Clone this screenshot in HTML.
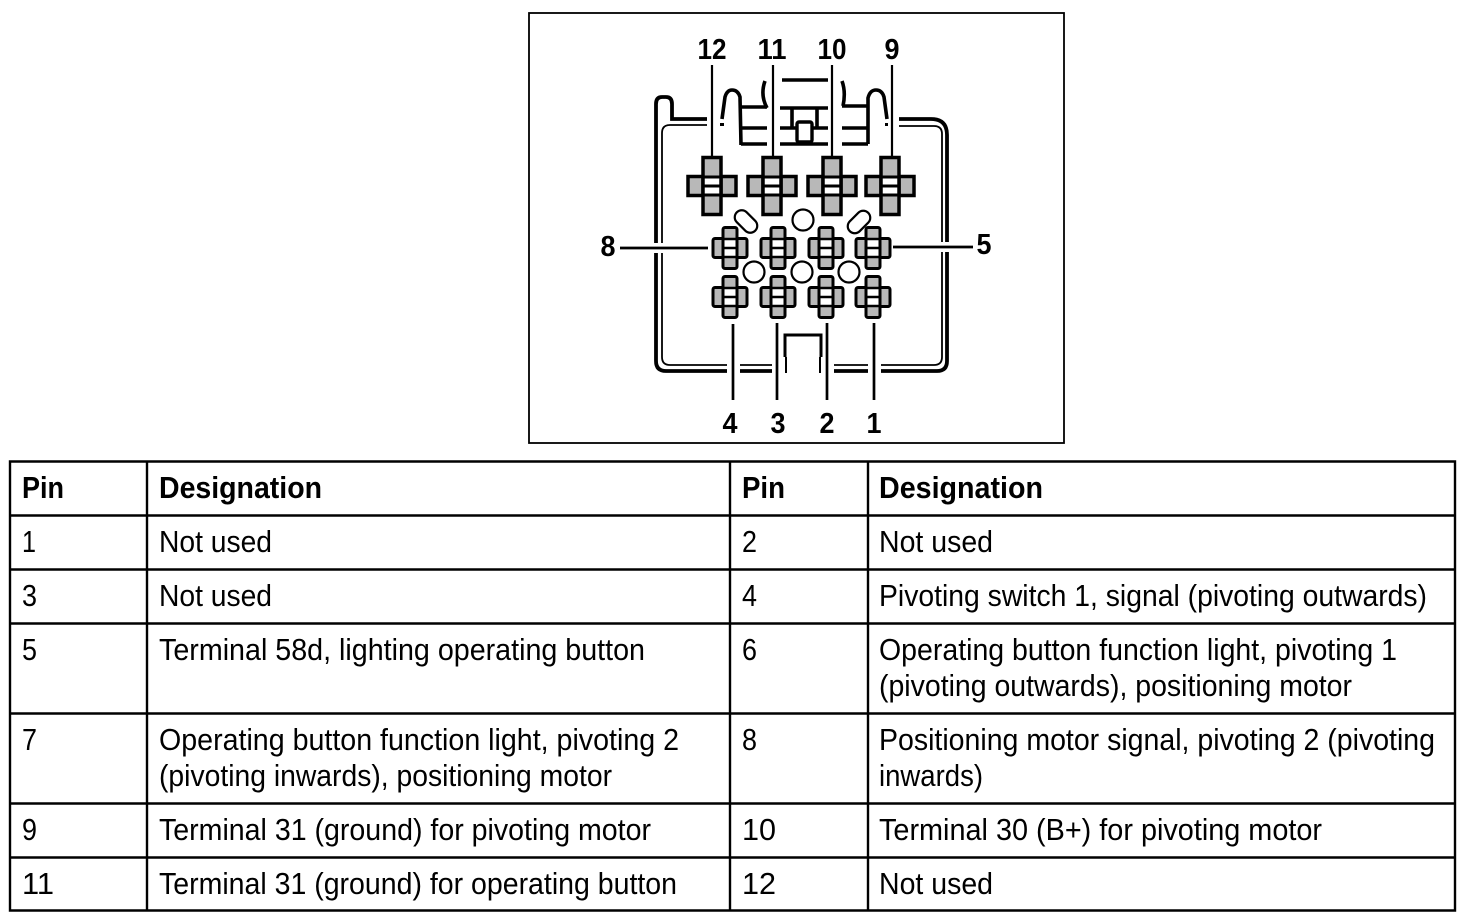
<!DOCTYPE html>
<html><head><meta charset="utf-8"><style>
html,body{margin:0;padding:0;background:#fff}
svg{display:block}
text{font-family:"Liberation Sans",sans-serif;fill:#000}
.t{font-size:30.500px}
.h{font-size:30.500px;font-weight:bold}
.n{font-size:29px;font-weight:bold;text-anchor:middle}
.g{fill:#b8b8b8;stroke:#000}
.w{fill:#fff;stroke:#000}
.l{fill:none;stroke:#000}
</style></head><body>
<svg width="1464" height="922" viewBox="0 0 1464 922" xmlns="http://www.w3.org/2000/svg">
<defs>
<g id="big">
<rect class="g" x="-24" y="-9.500" width="48" height="19" stroke-width="3.500"/>
<rect class="g" x="-9" y="-28.500" width="18" height="57" stroke-width="3.500"/>
<rect x="-8" y="-8" width="16" height="16" fill="#fff"/>
<path class="l" d="M-9-9H9M-9 0H9M-9 9H9" stroke-width="3"/>
<path class="l" d="M-9-9V9M9-9V9" stroke-width="3.500"/>
</g>
<g id="small">
<rect class="g" x="-17" y="-9.500" width="34" height="19" rx="2" stroke-width="3"/>
<rect class="g" x="-7" y="-20.500" width="14" height="41" rx="2" stroke-width="3"/>
<rect x="-5.500" y="-9" width="11" height="18" fill="#fff"/>
<path class="l" d="M-7-9H7M-7 0H7M-7 9H7" stroke-width="2.500"/>
<path class="l" d="M-7-9V9M7-9V9" stroke-width="3"/>
</g>
</defs>
<rect x="0" y="0" width="1464" height="922" fill="#fff"/>
<rect class="l" x="529" y="13" width="535" height="430" stroke-width="1.800"/>

<!-- housing outer -->
<path class="l" stroke-width="3.800" d="M707 119H672V104Q672 97 666 97H662Q656 97 656 104V361Q656 371 666 371H727M740 371H772M834 371H868M881 371H937Q947 371 947 361V135Q947 119 931 119H899"/>
<path class="l" stroke-width="1.800" d="M707 125H670Q662 125 662 133V357Q662 365 670 365H727M740 365H772M834 365H868M881 365H934Q942 365 942 357V134Q942 126 934 126H899"/>
<rect x="650" y="243" width="18" height="10" fill="#fff"/>
<rect x="936" y="242" width="18" height="10" fill="#fff"/>

<!-- top structure -->
<path class="l" stroke-width="3.600" d="M722 119L725 97Q727 90 732 90Q738 90 740 97L741 145M741 107H767M741 128H767M741 144H767"/>
<path class="l" stroke-width="3.600" d="M765 81Q760 95 767 108"/>
<path class="l" stroke-width="3.600" d="M782 80H828M780 108H828M792 108V128M817 108V128M780 128H797M812 128H828M780 144H828"/>
<rect class="l" x="797" y="122" width="15" height="20" rx="2" stroke-width="3.400" style="fill:#fff"/>
<path class="l" stroke-width="3.600" d="M842 81Q846 92 843 106M842 106H867M842 128H867M842 144H868M868 144V98Q870 90 876 90Q882 90 884 97L887 119"/>
<rect x="720" y="123" width="4" height="3" fill="#000"/>
<rect x="885" y="123" width="3" height="3" fill="#000"/>

<!-- bottom notch -->
<path class="l" stroke-width="3" d="M785 357V335H821V357"/>
<path class="l" stroke-width="2" d="M786 357V373M820 357V373"/>

<!-- leaders -->
<path class="l" stroke-width="2.200" d="M712 65V157M773 65V157M832 65V157M892 65V157"/>
<path class="l" stroke-width="2.700" d="M733 324V400M777 323V400M827 323V400M874 323V400M620 248H708M893 247H973"/>

<!-- crosses -->
<use href="#big" x="712" y="186"/>
<use href="#big" x="772" y="186"/>
<use href="#big" x="832" y="186"/>
<use href="#big" x="890" y="186"/>
<use href="#small" x="730" y="248"/>
<use href="#small" x="778" y="248"/>
<use href="#small" x="826" y="248"/>
<use href="#small" x="873" y="248"/>
<use href="#small" x="730" y="297"/>
<use href="#small" x="778" y="297"/>
<use href="#small" x="826" y="297"/>
<use href="#small" x="873" y="297"/>

<circle class="w" cx="803" cy="220" r="10.500" stroke-width="2.200"/>
<circle class="w" cx="754" cy="272" r="10.500" stroke-width="2.200"/>
<circle class="w" cx="802" cy="272" r="10.500" stroke-width="2.200"/>
<circle class="w" cx="849" cy="272" r="10.500" stroke-width="2.200"/>
<rect class="w" x="733" y="214.500" width="26" height="14" rx="7" stroke-width="2.200" transform="rotate(45 746 221.500)"/>
<rect class="w" x="846" y="215" width="26" height="14" rx="7" stroke-width="2.200" transform="rotate(-45 859 222)"/>

<!-- pin labels -->
<text class="n" x="712" y="59" textLength="29" lengthAdjust="spacingAndGlyphs">12</text>
<text class="n" x="772" y="59" textLength="29" lengthAdjust="spacingAndGlyphs">11</text>
<text class="n" x="832" y="59" textLength="29" lengthAdjust="spacingAndGlyphs">10</text>
<text class="n" x="892" y="59" textLength="15" lengthAdjust="spacingAndGlyphs">9</text>
<text class="n" x="730" y="433" textLength="15" lengthAdjust="spacingAndGlyphs">4</text>
<text class="n" x="778" y="433" textLength="15" lengthAdjust="spacingAndGlyphs">3</text>
<text class="n" x="827" y="433" textLength="15" lengthAdjust="spacingAndGlyphs">2</text>
<text class="n" x="874" y="433" textLength="15" lengthAdjust="spacingAndGlyphs">1</text>
<text class="n" x="608" y="256" textLength="15" lengthAdjust="spacingAndGlyphs">8</text>
<text class="n" x="984" y="254" textLength="15" lengthAdjust="spacingAndGlyphs">5</text>

<!-- table -->
<path class="l" stroke-width="2.400" d="M10 461.500H1455V910.500H10ZM10 515.500H1455M10 569.500H1455M10 623.500H1455M10 713.500H1455M10 803.500H1455M10 857.500H1455M147 461V911M730 461V911M868 461V911"/>

<text class="h" x="22" y="498" textLength="42" lengthAdjust="spacingAndGlyphs">Pin</text>
<text class="h" x="159" y="498" textLength="163" lengthAdjust="spacingAndGlyphs">Designation</text>
<text class="h" x="742" y="498" textLength="43" lengthAdjust="spacingAndGlyphs">Pin</text>
<text class="h" x="879" y="498" textLength="164" lengthAdjust="spacingAndGlyphs">Designation</text>

<text class="t" x="22" y="552" textLength="14" lengthAdjust="spacingAndGlyphs">1</text>
<text class="t" x="159" y="552" textLength="113" lengthAdjust="spacingAndGlyphs">Not used</text>
<text class="t" x="742" y="552" textLength="15" lengthAdjust="spacingAndGlyphs">2</text>
<text class="t" x="879" y="552" textLength="114" lengthAdjust="spacingAndGlyphs">Not used</text>

<text class="t" x="22" y="606" textLength="15" lengthAdjust="spacingAndGlyphs">3</text>
<text class="t" x="159" y="606" textLength="113" lengthAdjust="spacingAndGlyphs">Not used</text>
<text class="t" x="742" y="606" textLength="15" lengthAdjust="spacingAndGlyphs">4</text>
<text class="t" x="879" y="606" textLength="548" lengthAdjust="spacingAndGlyphs">Pivoting switch 1, signal (pivoting outwards)</text>

<text class="t" x="22" y="660" textLength="15" lengthAdjust="spacingAndGlyphs">5</text>
<text class="t" x="159" y="660" textLength="486" lengthAdjust="spacingAndGlyphs">Terminal 58d, lighting operating button</text>
<text class="t" x="742" y="660" textLength="15" lengthAdjust="spacingAndGlyphs">6</text>
<text class="t" x="879" y="660" textLength="518" lengthAdjust="spacingAndGlyphs">Operating button function light, pivoting 1</text>
<text class="t" x="879" y="696" textLength="473" lengthAdjust="spacingAndGlyphs">(pivoting outwards), positioning motor</text>

<text class="t" x="22" y="750" textLength="15" lengthAdjust="spacingAndGlyphs">7</text>
<text class="t" x="159" y="750" textLength="520" lengthAdjust="spacingAndGlyphs">Operating button function light, pivoting 2</text>
<text class="t" x="159" y="786" textLength="453" lengthAdjust="spacingAndGlyphs">(pivoting inwards), positioning motor</text>
<text class="t" x="742" y="750" textLength="15" lengthAdjust="spacingAndGlyphs">8</text>
<text class="t" x="879" y="750" textLength="556" lengthAdjust="spacingAndGlyphs">Positioning motor signal, pivoting 2 (pivoting</text>
<text class="t" x="879" y="786" textLength="104" lengthAdjust="spacingAndGlyphs">inwards)</text>

<text class="t" x="22" y="840" textLength="15" lengthAdjust="spacingAndGlyphs">9</text>
<text class="t" x="159" y="840" textLength="492" lengthAdjust="spacingAndGlyphs">Terminal 31 (ground) for pivoting motor</text>
<text class="t" x="742" y="840" textLength="34" lengthAdjust="spacingAndGlyphs">10</text>
<text class="t" x="879" y="840" textLength="443" lengthAdjust="spacingAndGlyphs">Terminal 30 (B+) for pivoting motor</text>

<text class="t" x="22" y="894" textLength="32" lengthAdjust="spacingAndGlyphs">11</text>
<text class="t" x="159" y="894" textLength="518" lengthAdjust="spacingAndGlyphs">Terminal 31 (ground) for operating button</text>
<text class="t" x="742" y="894" textLength="34" lengthAdjust="spacingAndGlyphs">12</text>
<text class="t" x="879" y="894" textLength="114" lengthAdjust="spacingAndGlyphs">Not used</text>
</svg>
</body></html>
